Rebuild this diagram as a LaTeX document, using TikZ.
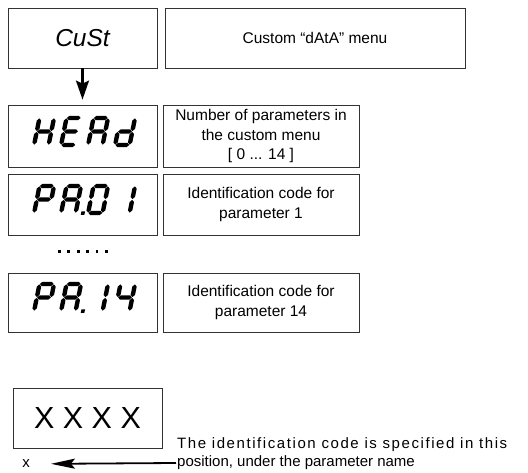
\documentclass[tikz,border=0pt]{standalone}
\usepackage{fontspec}
\setmainfont{Liberation Sans}
\usetikzlibrary{arrows.meta}

\def\segw{14.5}
\newcommand{\hseg}[2]{\fill (#1+0.4,#2) -- ++(2.2,2.2) -- ++(\segw-5.2,0) -- ++(2.2,-2.2) -- ++(-2.2,-2.2) -- ++(-\segw+5.2,0) -- cycle;}
\newcommand{\vseg}[2]{\fill (#1,#2+0.4) -- ++(2.2,2.2) -- ++(0,8.3) -- ++(-2.2,2.2) -- ++(-2.2,-2.2) -- ++(0,-8.3) -- cycle;}
\newcommand{\segA}{\hseg{0}{0}}
\newcommand{\segB}{\vseg{\segw}{0}}
\newcommand{\segC}{\vseg{\segw}{13.5}}
\newcommand{\segD}{\hseg{0}{27}}
\newcommand{\segE}{\vseg{0}{13.5}}
\newcommand{\segF}{\vseg{0}{0}}
\newcommand{\segG}{\hseg{0}{13.5}}
\newcommand{\segDP}{\fill (\segw+5.5,25.3) rectangle ++(3.6,3.6);}
\newcommand{\segchar}[3]{\begin{scope}[shift={(#1,#2)},xslant=0.2]#3\end{scope}}

\tikzset{
  dispbox/.style = {draw=black!80, line width=0.8pt, inner sep=0pt, minimum width=149pt},
  infobox/.style = {draw=black!80, line width=0.8pt, inner sep=0pt, align=center,
    font=\fontsize{15.5}{19.5}\selectfont},
  plaintxt/.style = {inner sep=0pt, font=\fontsize{15}{18}\selectfont},
}

\begin{document}
\begin{tikzpicture}[x=1pt, y=-1pt]
  \useasboundingbox (0,0) rectangle (528,473);

  \node [dispbox, minimum height=60pt, font=\fontsize{24.5}{26}\selectfont\itshape] (cust) at (82.5,38) {CuSt};
  \node [infobox, minimum width=300pt, minimum height=60pt] (custtxt) at (315,38) {Custom “dAtA” menu};

  \node [dispbox, minimum height=62pt] (head) at (82.5,136) {};
  \node [infobox, minimum width=196pt, minimum height=62pt] (headtxt) at (261,136)
    {Number of parameters in\\the custom menu\\{[} 0 ... 14 ]};

  \node [dispbox, minimum height=61pt] (pa01) at (82.5,204.5) {};
  \node [infobox, minimum width=196pt, minimum height=61pt] (pa01txt) at (261,204.5)
    {Identification code for\\parameter 1};

  \node [dispbox, minimum height=59pt] (pa14) at (82.5,302.5) {};
  \node [infobox, minimum width=196pt, minimum height=59pt] (pa14txt) at (261,302.5)
    {Identification code for\\parameter 14};

  \draw [line width=2.2pt, -{Stealth[length=19pt, width=13pt, inset=3pt]}, shorten >=5pt] (cust) -- (head);

  % HEAd
  \segchar{39.5}{118}{\segB\segC\segE\segF\segG}
  \segchar{66.5}{118}{\segA\segD\segE\segF\segG}
  \segchar{93.5}{118}{\segA\segB\segC\segE\segF\segG}
  \segchar{120.5}{118}{\segB\segC\segD\segE\segG}
  % PA.01
  \segchar{39.5}{186}{\segA\segB\segE\segF\segG}
  \segchar{66.5}{186}{\segA\segB\segC\segE\segF\segG\segDP}
  \segchar{93.5}{186}{\segA\segB\segC\segD\segE\segF}
  \segchar{120.5}{186}{\segB\segC}
  % PA.14
  \segchar{39.5}{284}{\segA\segB\segE\segF\segG}
  \segchar{66.5}{284}{\segA\segB\segC\segE\segF\segG\segDP}
  \segchar{93.5}{284}{\segB\segC}
  \segchar{120.5}{284}{\segB\segC\segF\segG}

  \foreach \i in {0,...,5}
    \fill (58+9.4*\i,250.5) rectangle ++(2.7,2.7);

  \node [dispbox, minimum height=60pt, font=\fontsize{30.5}{33}\selectfont] (xxxx) at (87.5,418) {X X X X};
  \node [plaintxt] (xlbl) at (26,464) {x};
  \node [plaintxt, anchor=west, align=left] (note) at (177,454)
    {{\addfontfeature{LetterSpace=10.5}The identification code is specified in this}\\position, under the parameter name};
  \coordinate (tail) at (176,463);
  \draw [line width=1.8pt, -{Stealth[length=24pt, width=10pt, inset=4pt]}, shorten >=21pt] (tail) -- (xlbl);
\end{tikzpicture}
\end{document}
